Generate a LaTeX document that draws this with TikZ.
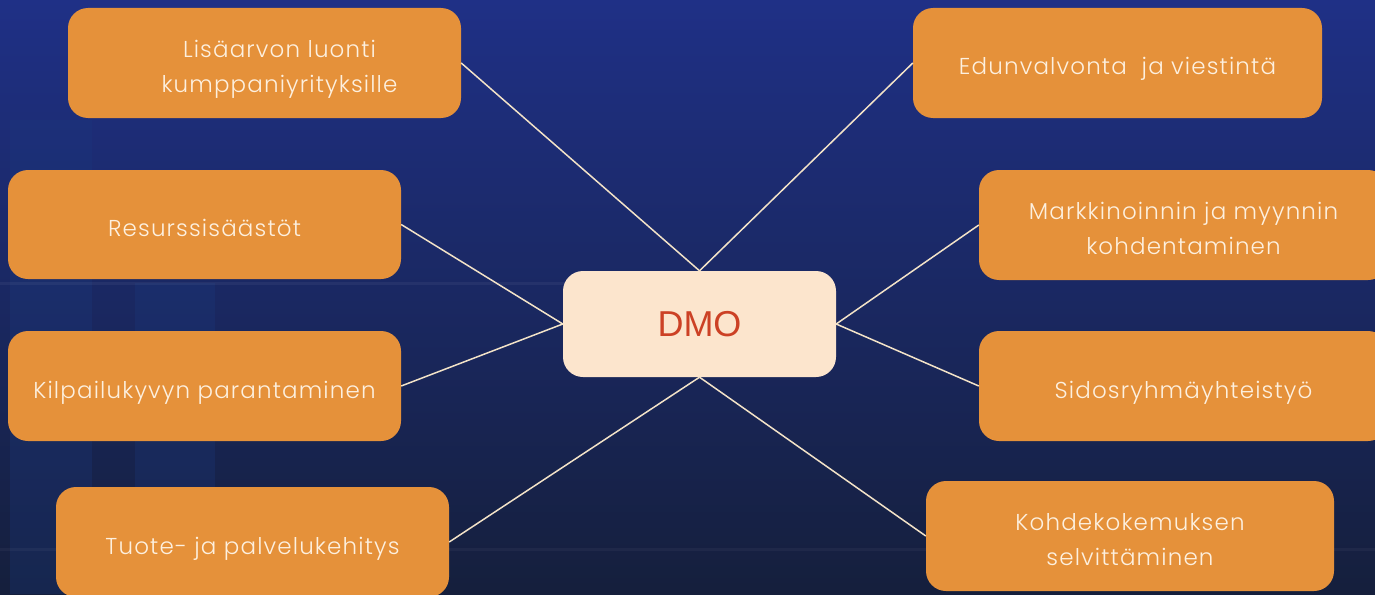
\documentclass[tikz,border=0pt]{standalone}
\usepackage{fontspec}
\newfontfamily\boxfont{Poppins Light}[LetterSpace=5]
\newfontfamily\dmofont{Liberation Sans}
\definecolor{bgtop}{HTML}{1F3086}
\definecolor{bgmid}{HTML}{1A2862}
\definecolor{bgbot}{HTML}{151F3C}
\definecolor{boxor}{HTML}{E5913A}
\definecolor{boxtxt}{HTML}{FDF0DF}
\definecolor{dmofill}{HTML}{FCE5CD}
\definecolor{dmotxt}{HTML}{CC4125}
\definecolor{conn}{HTML}{F3E3C8}
\definecolor{barc}{HTML}{1B3A80}
\newcommand\boxtext[1]{\raisebox{-5pt}[\height][\depth]{\begin{tabular}{@{}c@{}}#1\end{tabular}}}
\tikzset{
  topic/.style={rectangle, rounded corners=20pt, fill=boxor, text=boxtxt,
    minimum width=393pt, minimum height=110pt, align=center,
    font=\boxfont\fontsize{23}{35}\selectfont, inner sep=0pt},
  hub/.style={rectangle, rounded corners=20pt, fill=dmofill, text=dmotxt,
    minimum width=273pt, minimum height=106pt,
    font=\dmofont\fontsize{36}{40}\selectfont, inner sep=0pt},
  link/.style={draw=conn, line width=1.5pt}
}
\begin{document}
\begin{tikzpicture}[x=1pt,y=-1pt]
\useasboundingbox (0,0) rectangle (1375,594);
\shade[top color=bgtop, bottom color=bgbot, middle color=bgmid] (0,0) rectangle (1375,594);
% faint background bars
\fill[barc, opacity=0.28] (10,120) rectangle (92,594);
\fill[barc, opacity=0.28] (135,283) rectangle (215,594);
\fill[white, opacity=0.05] (0,282) rectangle (700,285);
\fill[white, opacity=0.04] (0,548) rectangle (1375,551);

\node[hub] (dmo) at (699.5,324) {DMO};

\node[topic] (b1) at (264.5,63) {\boxtext{\hspace*{30pt}Lisäarvon luonti\\\hspace*{30pt}kumppaniyrityksille}};
\node[topic, minimum height=109pt] (b2) at (204.5,224.5) {\boxtext{Resurssisäästöt}};
\node[topic] (b3) at (204.5,386) {\boxtext{Kilpailukyvyn parantaminen}};
\node[topic] (b4) at (252.5,542) {\boxtext{Tuote- ja palvelukehitys}};

\node[topic, minimum width=409pt] (r1) at (1117.5,63) {\boxtext{Edunvalvonta\ \ ja viestintä}};
\node[topic, minimum width=409pt] (r2) at (1183.5,225) {\boxtext{Markkinoinnin ja myynnin\\kohdentaminen}};
\node[topic, minimum width=409pt] (r3) at (1183.5,386) {\boxtext{Sidosryhmäyhteistyö}};
\node[topic, minimum width=408pt] (r4) at (1130,536) {\boxtext{Kohdekokemuksen\\selvittäminen}};

\draw[link] (b1.east) -- (dmo.north);
\draw[link] (b2.east) -- (dmo.west);
\draw[link] (b3.east) -- (dmo.west);
\draw[link] (b4.east) -- (dmo.south);
\draw[link] (r1.west) -- (dmo.north);
\draw[link] (r2.west) -- (dmo.east);
\draw[link] (r3.west) -- (dmo.east);
\draw[link] (r4.west) -- (dmo.south);
\end{tikzpicture}
\end{document}
